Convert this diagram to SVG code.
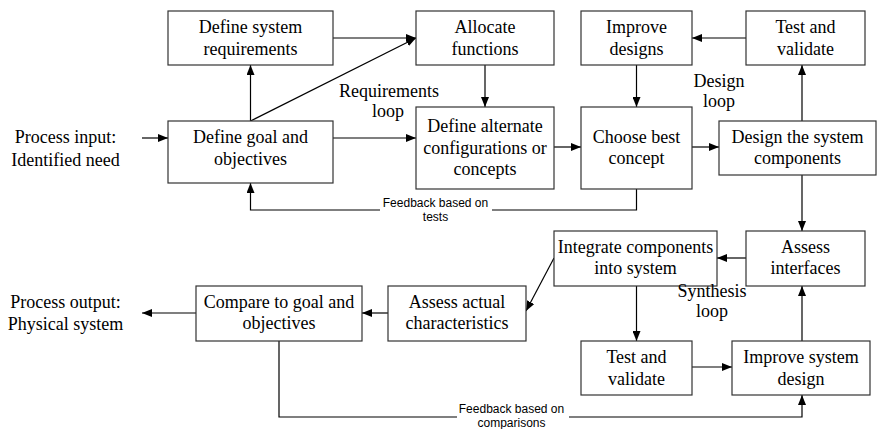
<svg xmlns="http://www.w3.org/2000/svg" width="877" height="429" viewBox="0 0 877 429">
  <defs>
    <marker id="head" markerUnits="userSpaceOnUse" markerWidth="10" markerHeight="8" refX="10" refY="4" orient="auto">
      <path d="M0,0 L10,4 L0,8 z" fill="#000"/>
    </marker>
  </defs>
  <rect width="877" height="429" fill="#fff"/>

  <!-- connectors: arrows share one stroke and the head marker -->
  <g id="connectors" fill="none" stroke="#000" stroke-width="1.2">
    <path marker-end="url(#head)" d="M142,138 H168"/>
    <path marker-end="url(#head)" d="M250.5,121 V65"/>
    <path marker-end="url(#head)" d="M250.5,121 L416,38"/>
    <path marker-end="url(#head)" d="M333,38 H416"/>
    <path marker-end="url(#head)" d="M485,65 V107"/>
    <path marker-end="url(#head)" d="M333,138 H416"/>
    <path marker-end="url(#head)" d="M554,147 H581"/>
    <path marker-end="url(#head)" d="M636.5,65 V107"/>
    <path marker-end="url(#head)" d="M692,147 H719"/>
    <path marker-end="url(#head)" d="M802,121 V65"/>
    <path marker-end="url(#head)" d="M746,38 H692"/>
    <path d="M636.5,189 V210 H492"/>
    <path marker-end="url(#head)" d="M380,210 H250.5 V183"/>
    <path marker-end="url(#head)" d="M802,175 V231"/>
    <path marker-end="url(#head)" d="M746,258 H717"/>
    <path marker-end="url(#head)" d="M554,258 L526,311"/>
    <path marker-end="url(#head)" d="M636.5,286 V341"/>
    <path marker-end="url(#head)" d="M692,367 H732"/>
    <path marker-end="url(#head)" d="M802,341 V286"/>
    <path marker-end="url(#head)" d="M388,313 H362"/>
    <path marker-end="url(#head)" d="M196,313 H142"/>
    <path d="M279,341 V417 H457"/>
    <path marker-end="url(#head)" d="M569,417 H802 V395"/>
  </g>

  <!-- process boxes -->
  <g fill="#fff" stroke="#333" stroke-width="1.2">
    <rect id="box-define-requirements" x="168" y="11" width="165" height="54"/>
    <rect id="box-allocate-functions" x="416" y="11" width="138" height="54"/>
    <rect id="box-improve-designs" x="581" y="11" width="111" height="54"/>
    <rect id="box-test-validate-top" x="746" y="11" width="119" height="54"/>
    <rect id="box-define-goal" x="168" y="121" width="165" height="62"/>
    <rect id="box-define-alternates" x="416" y="107" width="138" height="82"/>
    <rect id="box-choose-concept" x="581" y="107" width="111" height="82"/>
    <rect id="box-design-components" x="719" y="121" width="157" height="54"/>
    <rect id="box-integrate-components" x="554" y="231" width="163" height="55"/>
    <rect id="box-assess-interfaces" x="746" y="231" width="119" height="55"/>
    <rect id="box-assess-characteristics" x="388" y="286" width="138" height="55"/>
    <rect id="box-compare-goal" x="196" y="286" width="166" height="55"/>
    <rect id="box-test-validate-bottom" x="581" y="341" width="111" height="54"/>
    <rect id="box-improve-system" x="732" y="341" width="138" height="54"/>
  </g>

  <!-- labels -->
  <g style="font-family: 'Liberation Serif', 'Times New Roman', serif; font-size: 18px; text-anchor: middle; fill: #000">
    <g id="input">
      <text x="65.5" y="143.3">Process input:</text>
      <text x="65.5" y="165.5">Identified need</text>
    </g>
    <g id="output">
      <text x="65.5" y="308.3">Process output:</text>
      <text x="65.5" y="329.5">Physical system</text>
    </g>
    <g id="define-requirements">
      <text x="250.5" y="33.3">Define system</text>
      <text x="250.5" y="54.5">requirements</text>
    </g>
    <g id="allocate-functions">
      <text x="485" y="33.3">Allocate</text>
      <text x="485" y="54.5">functions</text>
    </g>
    <g id="improve-designs">
      <text x="636.5" y="33.3">Improve</text>
      <text x="636.5" y="54.5">designs</text>
    </g>
    <g id="test-validate-top">
      <text x="805.5" y="33.3">Test and</text>
      <text x="805.5" y="54.5">validate</text>
    </g>
    <g id="define-goal">
      <text x="250.5" y="143.3">Define goal and</text>
      <text x="250.5" y="165">objectives</text>
    </g>
    <g id="define-alternates">
      <text x="485" y="131.7">Define alternate</text>
      <text x="485" y="153.7">configurations or</text>
      <text x="485" y="175.3">concepts</text>
    </g>
    <g id="choose-concept">
      <text x="636.5" y="142.7">Choose best</text>
      <text x="636.5" y="164">concept</text>
    </g>
    <g id="design-components">
      <text x="797.5" y="142.7">Design the system</text>
      <text x="797.5" y="164">components</text>
    </g>
    <g id="integrate-components">
      <text x="635.5" y="253.3">Integrate components</text>
      <text x="635.5" y="274.3">into system</text>
    </g>
    <g id="assess-interfaces">
      <text x="805.5" y="253.3">Assess</text>
      <text x="805.5" y="274.3">interfaces</text>
    </g>
    <g id="assess-characteristics">
      <text x="457" y="308.3">Assess actual</text>
      <text x="457" y="329.3">characteristics</text>
    </g>
    <g id="compare-goal">
      <text x="279" y="308.3">Compare to goal and</text>
      <text x="279" y="329.3">objectives</text>
    </g>
    <g id="test-validate-bottom">
      <text x="636.5" y="363.3">Test and</text>
      <text x="636.5" y="385">validate</text>
    </g>
    <g id="improve-system">
      <text x="801" y="363.3">Improve system</text>
      <text x="801" y="385">design</text>
    </g>
    <g id="loop-labels">
      <text x="389" y="97.3">Requirements</text>
      <text x="388" y="116.7">loop</text>
      <text x="719" y="87.3">Design</text>
      <text x="719" y="106.7">loop</text>
      <text x="712" y="296.7">Synthesis</text>
      <text x="712" y="316.7">loop</text>
    </g>
  </g>

  <g id="feedback-labels" style="font-family: 'Liberation Sans', Arial, sans-serif; font-size: 12px; text-anchor: middle; fill: #000">
    <text x="435.5" y="206.7">Feedback based on</text>
    <text x="435.5" y="220.7">tests</text>
    <text x="511.5" y="413.3">Feedback based on</text>
    <text x="511.5" y="426.5">comparisons</text>
  </g>
</svg>
